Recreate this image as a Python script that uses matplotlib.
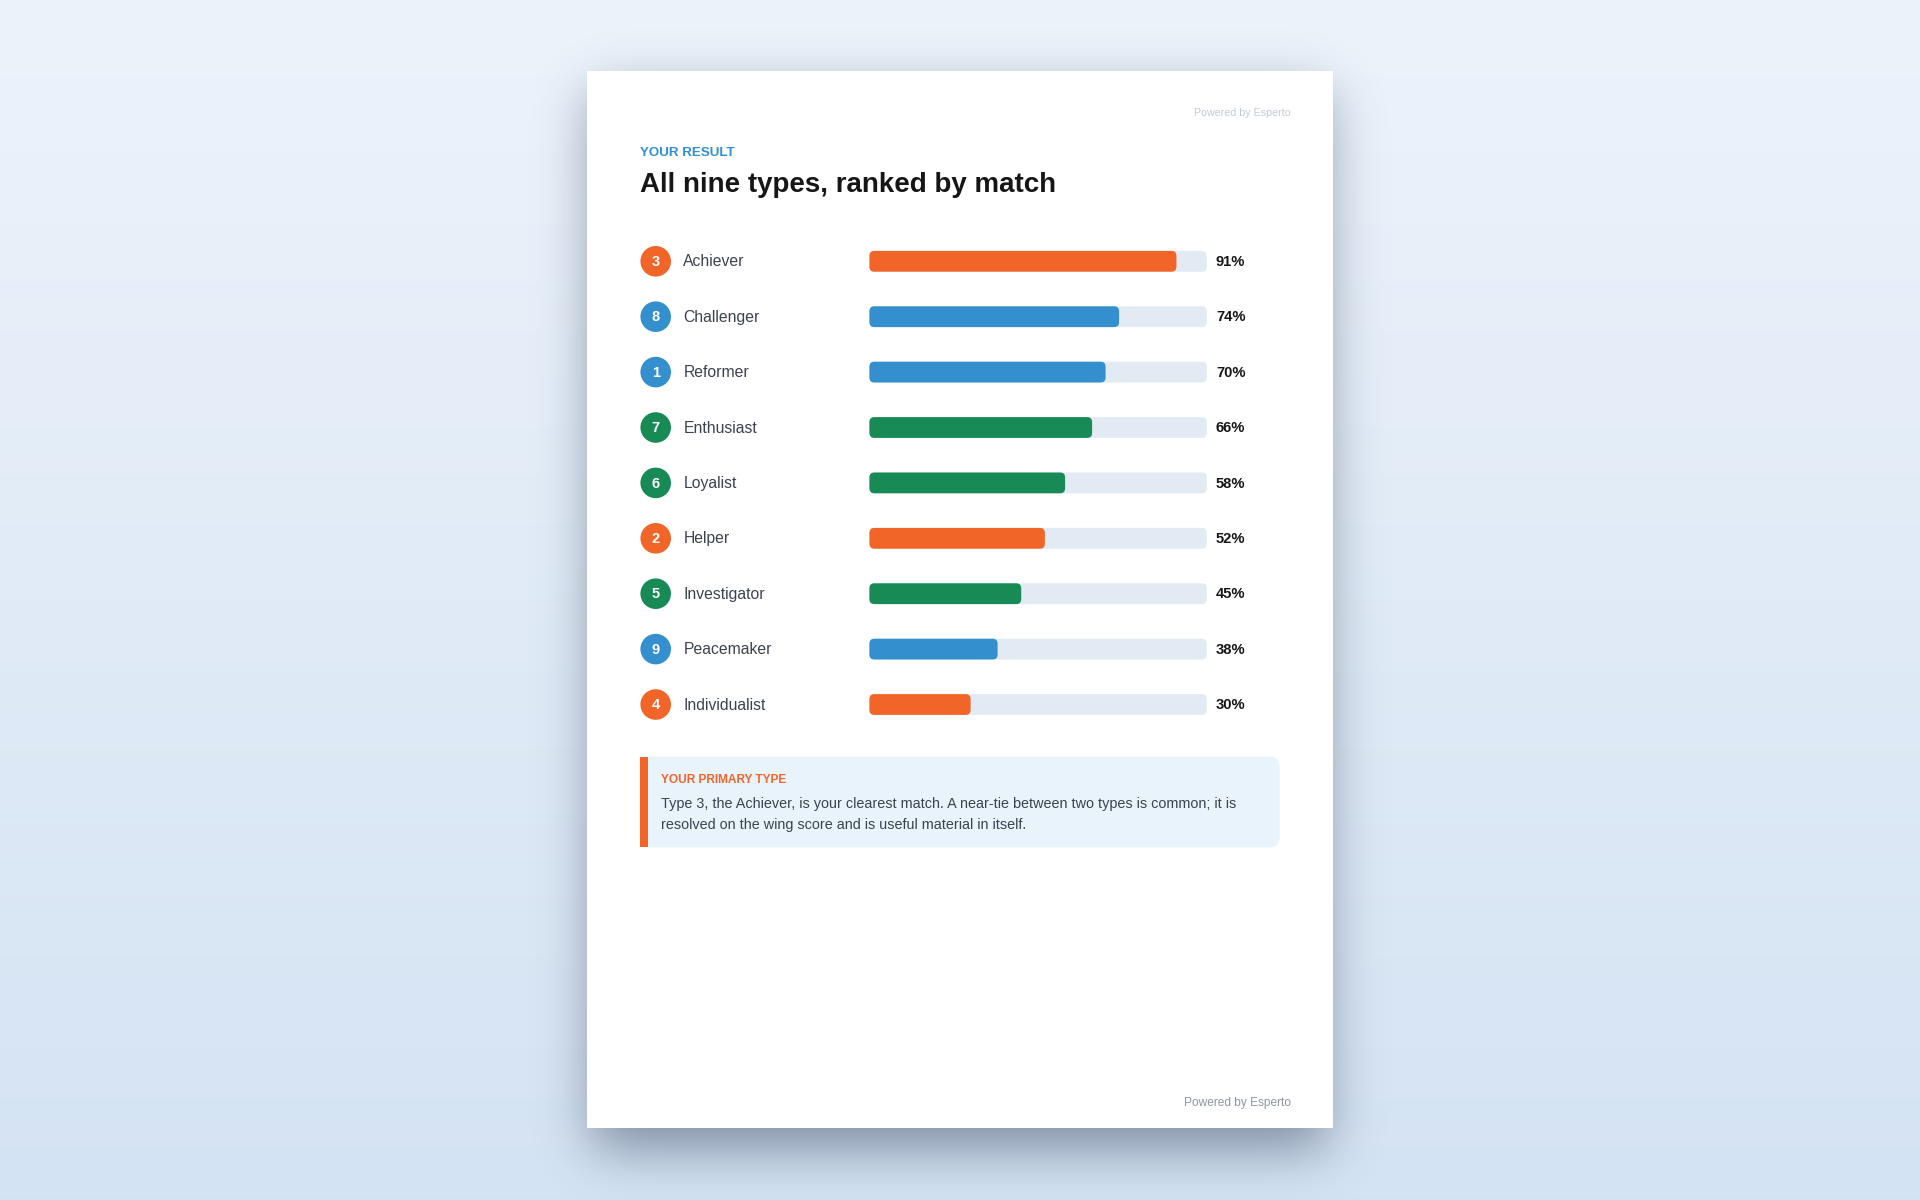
import math

import matplotlib
matplotlib.use("Agg")
import matplotlib.pyplot as plt
import matplotlib.transforms as mtransforms
from matplotlib.patches import Rectangle, FancyBboxPatch
import numpy as np

plt.rcParams["font.family"] = ["Liberation Sans", "DejaVu Sans"]

# ── Data ────────────────────────────────────────────────────────────────────
TYPE_NAMES = ["Achiever", "Challenger", "Reformer", "Enthusiast", "Loyalist",
              "Helper", "Investigator", "Peacemaker", "Individualist"]
TYPE_NUMBERS = [3, 8, 1, 7, 6, 2, 5, 9, 4]
MATCH_PCT = [91, 74, 70, 66, 58, 52, 45, 38, 30]
TYPE_CENTRE = ["heart", "gut", "gut", "head", "head", "heart", "head", "gut", "heart"]

CENTRE_COLORS = {"heart": "#f26529", "gut": "#338fce", "head": "#178a56"}
TRACK = "#e2eaf3"
TEXT_DARK = "#161616"
TEXT_BODY = "#3b4250"

W, H = 1920, 1200
fig = plt.figure(figsize=(W / 100, H / 100), dpi=100)
ax0 = fig.add_axes([0, 0, 1, 1])

# ── Backdrop: gradient + soft page shadow ───────────────────────────────────
top = np.array([0.929, 0.953, 0.984])
bot = np.array([0.831, 0.890, 0.953])
t = np.linspace(0, 1, H)[:, None, None]
ax0.imshow(top * (1 - t) + bot * t, extent=[0, W, H, 0], aspect="auto", zorder=0)

erf = np.vectorize(math.erf)


def soft(v, a, b, s):
    k = s * math.sqrt(2)
    return 0.5 * (erf((v - a) / k) - erf((v - b) / k))


xs = np.arange(W) + 0.5
ys = np.arange(H) + 0.5
shadow = np.zeros((H, W, 4))
shadow[..., :3] = [0.20, 0.26, 0.36]
shadow[..., 3] = np.outer(soft(ys, 92, 1150, 26), soft(xs, 592, 1327, 26)) * 0.52
ax0.imshow(shadow, extent=[0, W, H, 0], aspect="auto", zorder=1)

PAGE_L, PAGE_T, PAGE_R, PAGE_B = 586.5, 71, 1332.5, 1128
ax0.add_patch(Rectangle((PAGE_L, PAGE_T), PAGE_R - PAGE_L, PAGE_B - PAGE_T,
                        facecolor="white", edgecolor="none", zorder=2))

# ── Header ──────────────────────────────────────────────────────────────────
LEFT = 640.4
ax0.text(1290.6, 112.6, "Powered by Esperto", ha="right", va="center",
         fontsize=7.7, color="#c3cad4", zorder=3)
ax0.text(LEFT, 152.8, "YOUR RESULT", ha="left", va="center", fontsize=9.6,
         fontweight="bold", color="#2f8fd6", zorder=3)
ax0.text(LEFT, 185.0, "All nine types, ranked by match", ha="left", va="center",
         fontsize=20, fontweight="bold", color=TEXT_DARK, zorder=3)

# ── Rows ────────────────────────────────────────────────────────────────────
n = len(TYPE_NAMES)
ROW0, STEP = 261.3, 55.4
BAR_X0, BAR_X1 = 869.4, 1206.8
axb = fig.add_axes([BAR_X0 / W, 1 - (ROW0 - STEP / 2 + n * STEP) / H,
                    (BAR_X1 - BAR_X0) / W, n * STEP / H])
axb.set_xlim(0, 100)
axb.set_ylim(n - 0.5, -0.5)
axb.axis("off")
axb.patch.set_visible(False)

px_per_unit = (BAR_X1 - BAR_X0) / 100
bar_h = 20.8 / STEP
radius = 5 / px_per_unit
aspect = px_per_unit / STEP
style = f"round,pad=0,rounding_size={radius}"

trans = mtransforms.blended_transform_factory(ax0.transData, axb.transData)
text_trans = trans + mtransforms.ScaledTranslation(0, -0.6 / 100, fig.dpi_scale_trans)
colors = [CENTRE_COLORS[c] for c in TYPE_CENTRE]
rows = np.arange(n)

for i, (name, num, pct, col) in enumerate(zip(TYPE_NAMES, TYPE_NUMBERS, MATCH_PCT, colors)):
    axb.add_patch(FancyBboxPatch((0, i - bar_h / 2), 100, bar_h, boxstyle=style,
                                 mutation_aspect=aspect, facecolor=TRACK,
                                 edgecolor="none"))
    axb.add_patch(FancyBboxPatch((0, i - bar_h / 2), pct, bar_h, boxstyle=style,
                                 mutation_aspect=aspect, facecolor=col,
                                 edgecolor="none"))
    ax0.text(655.7, i, str(num), transform=text_trans, ha="center", va="center",
             fontsize=10.5, fontweight="bold", color="white", zorder=6)
    ax0.text(683.3, i, name, transform=text_trans, ha="left", va="center",
             fontsize=11.3, color=TEXT_BODY, zorder=6)
    ax0.text(1216, i, f"{pct}%", transform=text_trans, ha="left", va="center",
             fontsize=10.6, fontweight="bold", color=TEXT_DARK, zorder=6)

ax0.scatter(np.full(n, 655.7), rows, s=485, c=colors, linewidths=0,
            transform=trans, zorder=5)

# ── Callout ─────────────────────────────────────────────────────────────────
BOX_T, BOX_B, BOX_R = 756.7, 847.4, 1279.6
ax0.add_patch(FancyBboxPatch((LEFT, BOX_T), BOX_R - LEFT, BOX_B - BOX_T,
                             boxstyle="round,pad=0,rounding_size=10",
                             facecolor="#e8f3fb", edgecolor="none", zorder=3))
ax0.add_patch(Rectangle((LEFT, BOX_T), 7.3, BOX_B - BOX_T,
                        facecolor="#f26529", edgecolor="none", zorder=4))
ax0.text(661.2, 780.0, "YOUR PRIMARY TYPE", ha="left", va="center", fontsize=8.6,
         fontweight="bold", color="#f26529", zorder=5)
ax0.text(661.2, 804.3, "Type 3, the Achiever, is your clearest match. A near-tie "
         "between two types is common; it is", ha="left", va="center",
         fontsize=10.35, color=TEXT_BODY, zorder=5)
ax0.text(661.2, 824.6, "resolved on the wing score and is useful material in itself.",
         ha="left", va="center", fontsize=10.35, color=TEXT_BODY, zorder=5)

ax0.text(1290.6, 1103.4, "Powered by Esperto", ha="right", va="center",
         fontsize=8.6, color="#8d96a3", zorder=3)

ax0.set_xlim(0, W)
ax0.set_ylim(H, 0)
ax0.axis("off")

fig.savefig("out.png", dpi=100)
